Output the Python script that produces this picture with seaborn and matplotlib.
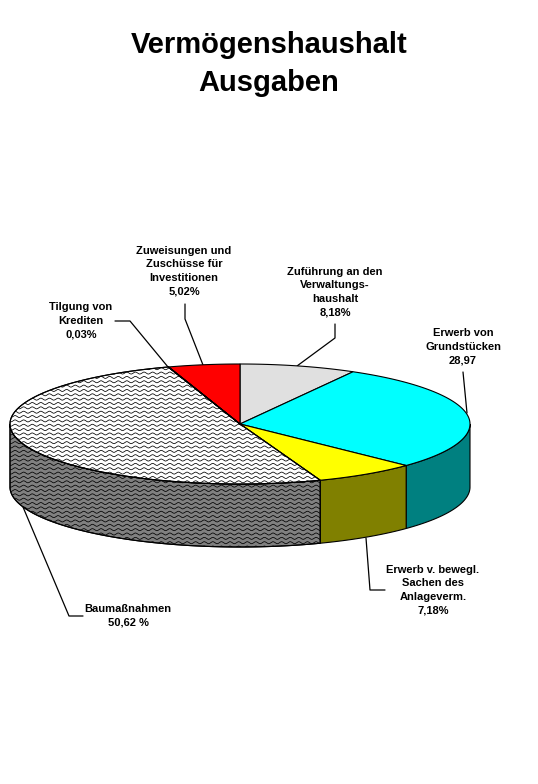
"""Vermögenshaushalt Ausgaben - 3D-Torte im alten Excel-Stil."""

import numpy as np
import matplotlib
matplotlib.use("Agg")
import matplotlib.pyplot as plt
from matplotlib.patches import Polygon
import seaborn as sns

kategorien = ["Zuführung", "Grundstücke", "Bewegl. Sachen", "Baumaßnahmen", "Tilgung", "Zuweisungen"]
werte = [8.18, 28.97, 7.18, 50.62, 0.03, 5.02]
farben_oben = ["#E0E0E0", "#00FFFF", "#FFFF00", "#FFFFFF", "#FFFFFF", "#FF0000"]
farben_seite = ["#A0A0A0", "#008080", "#808000", "#808080", "#808080", "#800000"]
gemustert = [False, False, False, True, True, False]

titel = "Vermögenshaushalt\nAusgaben"
beschriftungen = [
    "Zuführung an den\nVerwaltungs-\nhaushalt\n8,18%",
    "Erwerb von\nGrundstücken\n28,97",
    "Erwerb v. bewegl.\nSachen des\nAnlageverm.\n7,18%",
    "Baumaßnahmen\n50,62 %",
    "Tilgung von\nKrediten\n0,03%",
    "Zuweisungen und\nZuschüsse für\nInvestitionen\n5,02%",
]

# Geometrie der Torte in Pixeln
CX, CY, RX, RY, TIEFE = 240, 424, 230, 60, 63


def rand(t1, t2, dy=0.0):
    t = np.radians(np.linspace(t1, t2, max(int(abs(t2 - t1)) * 2, 2)))
    return np.column_stack([CX + RX * np.sin(t), CY + dy - RY * np.cos(t)])


def wellen(ax, patch):
    # Wellenmuster, auf die Fläche geclippt
    x = np.arange(0, 500, 0.5)
    for y0 in np.arange(360, 560, 4.35):
        y = y0 + 1.0 * np.sin(x * 2 * np.pi / 8.6)
        linie, = ax.plot(x, y, color="black", lw=0.55, zorder=patch.get_zorder() + 0.1)
        linie.set_clip_path(patch)


def main():
    sns.set_theme(style="white")
    plt.rcParams["font.family"] = ["Liberation Sans", "DejaVu Sans"]

    fig = plt.figure(figsize=(5.38, 7.84), dpi=100)
    ax = fig.add_axes([0, 0, 1, 1])
    ax.set_xlim(0, 538)
    ax.set_ylim(784, 0)
    ax.axis("off")

    grenzen = np.concatenate([[0], np.cumsum(werte)]) / np.sum(werte) * 360

    # Seitenwand (nur der sichtbare vordere Teil 90-270 Grad)
    for i in range(len(werte)):
        t1, t2 = max(grenzen[i], 90), min(grenzen[i + 1], 270)
        if t2 <= t1:
            continue
        ob = rand(t1, t2)
        un = rand(t1, t2, TIEFE)
        p = Polygon(np.vstack([ob, un[::-1]]), closed=True, fc=farben_seite[i], ec="black", lw=0.8, zorder=2)
        ax.add_patch(p)
        if gemustert[i]:
            wellen(ax, p)
            ax.add_patch(Polygon(np.vstack([ob, un[::-1]]), closed=True, fc="none", ec="black", lw=0.8, zorder=2.5))

    # Deckfläche
    for i in range(len(werte)):
        pts = np.vstack([[CX, CY], rand(grenzen[i], grenzen[i + 1])])
        p = Polygon(pts, closed=True, fc=farben_oben[i], ec="black", lw=0.8, zorder=3)
        ax.add_patch(p)
        if gemustert[i]:
            wellen(ax, p)
            ax.add_patch(Polygon(pts, closed=True, fc="none", ec="black", lw=0.8, zorder=3.5))

    # Führungslinien
    fuehrung = [
        ([335, 335, 297], [324, 338, 366]),
        ([463, 467], [372, 413]),
        ([366, 370, 385], [538, 590, 590]),
        ([23, 69, 83], [507, 616, 616]),
        ([115, 130, 168], [321, 321, 367]),
        ([185, 185, 203], [304, 319, 365]),
    ]
    for xs, ys in fuehrung:
        sns.lineplot(x=xs, y=ys, sort=False, estimator=None, color="black", lw=0.9, ax=ax, zorder=1)

    # Beschriftungen
    positionen = [(335, 292), (463, 347), (433, 590), (128, 616), (81, 321), (184, 271)]
    for text, (x, y) in zip(beschriftungen, positionen):
        ax.text(x, y, text, ha="center", va="center", fontsize=8, fontweight="bold",
                color="black", linespacing=1.45)

    ax.text(269, 64, titel, ha="center", va="center", fontsize=21, fontweight="bold",
            color="black", linespacing=1.45)

    fig.savefig("out.png", dpi=100, facecolor="white")


if __name__ == "__main__":
    main()
